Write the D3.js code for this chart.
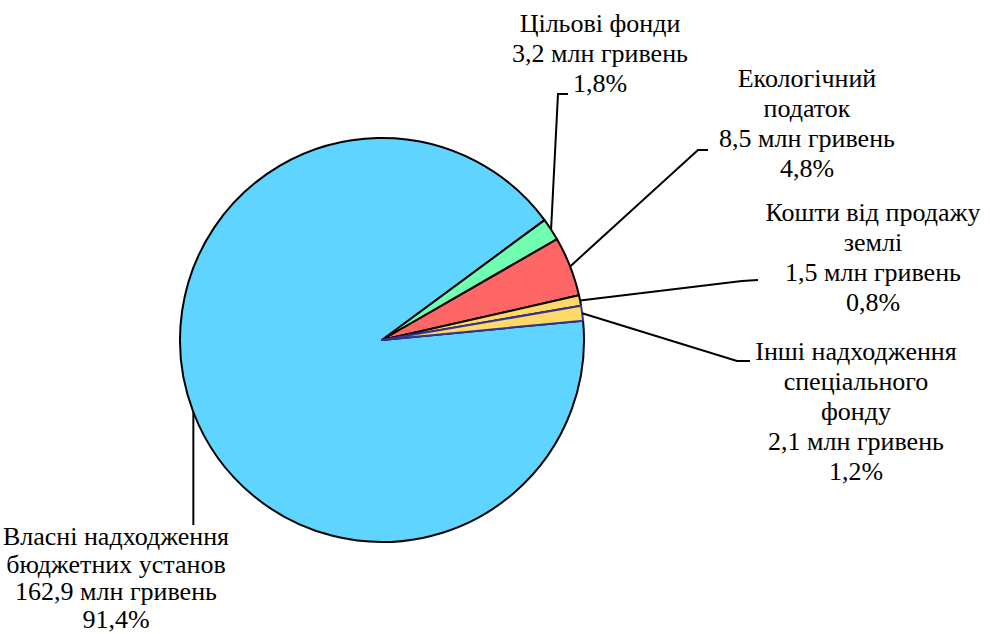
<html><head><meta charset="utf-8"><script src="https://cdn.jsdelivr.net/npm/d3@7"></script></head>
<body style="margin:0">
<svg id="chart" width="990" height="634"></svg>
<script>
// ---- data ----
const categories = [
  "Власні надходження бюджетних установ",
  "Цільові фонди",
  "Екологічний податок",
  "Кошти від продажу землі",
  "Інші надходження спеціального фонду"
];
const values = [162.9, 3.2, 8.5, 1.5, 2.1];           // млн гривень
const percentLabels = ["91,4%", "1,8%", "4,8%", "0,8%", "1,2%"];
const nameLines = [
  ["Власні надходження", "бюджетних установ"],
  ["Цільові фонди"],
  ["Екологічний", "податок"],
  ["Кошти від продажу", "землі"],
  ["Інші надходження", "спеціального", "фонду"]
];
const unitLabel = "млн гривень";

// ---- style / layout ----
const colors = ["#5ED4FF", "#70FFB0", "#FF6666", "#FFD966", "#FFD966"];
const strokes = ["#000", "#000", "#000", "#000", "#33339A"];
const cx = 382, cy = 340, R = 202;
const fontSize = 26, lineH = 30;
const labelLayout = [
  { x: 116, y: 545, lh: 27.5, elbow: null, end: [null, 525], vertical: true },
  { x: 600, y: 32,  lh: lineH, elbow: [558, 94],  end: [568, 94] },
  { x: 807, y: 87,  lh: lineH, elbow: [698, 150], end: [708, 150] },
  { x: 873, y: 221, lh: lineH, elbow: [742, 281], end: [758, 280] },
  { x: 856, y: 360, lh: lineH, elbow: [737, 361], end: [750, 361] }
];

const locale = d3.formatLocale({ decimal: ",", thousands: " ", grouping: [3], currency: ["", ""] });
const fmt = locale.format(".1f");

const svg = d3.select("#chart");
const deg = Math.PI / 180;
const start = 84.5 * deg;
const pie = d3.pie().sort(null).value(d => d).startAngle(start).endAngle(start + 2 * Math.PI);
const arcs = pie(values);
const arc = d3.arc().innerRadius(0).outerRadius(R);

const g = svg.append("g").attr("transform", `translate(${cx},${cy})`);
g.selectAll("path.slice")
  .data(arcs)
  .join("path")
  .attr("d", arc)
  .attr("fill", (d, i) => colors[i])
  .attr("stroke", (d, i) => strokes[i])
  .attr("stroke-width", 2)
  .attr("stroke-linejoin", "round");

arcs.forEach((a, i) => {
  const mid = (a.startAngle + a.endAngle) / 2;
  const sx = cx + R * Math.sin(mid);
  const sy = cy - R * Math.cos(mid);
  const L = labelLayout[i];
  const pts = L.vertical ? [[sx, sy], [sx, L.end[1]]] : [[sx, sy], L.elbow, L.end];
  svg.append("path")
    .attr("d", d3.line()(pts))
    .attr("fill", "none")
    .attr("stroke", "#000")
    .attr("stroke-width", 2);
});

categories.forEach((c, i) => {
  const L = labelLayout[i];
  const lines = nameLines[i].concat([fmt(values[i]) + " " + unitLabel, percentLabels[i]]);
  lines.forEach((ln, k) => {
    const t = svg.append("text")
      .attr("x", L.x)
      .attr("y", L.y + k * L.lh)
      .style("font-family", `"Liberation Serif"`)
      .style("font-size", fontSize + "px")
      .text(ln);
    const w = t.node().getComputedTextLength();
    t.attr("x", L.x - w / 2);
  });
});
</script></body></html>
